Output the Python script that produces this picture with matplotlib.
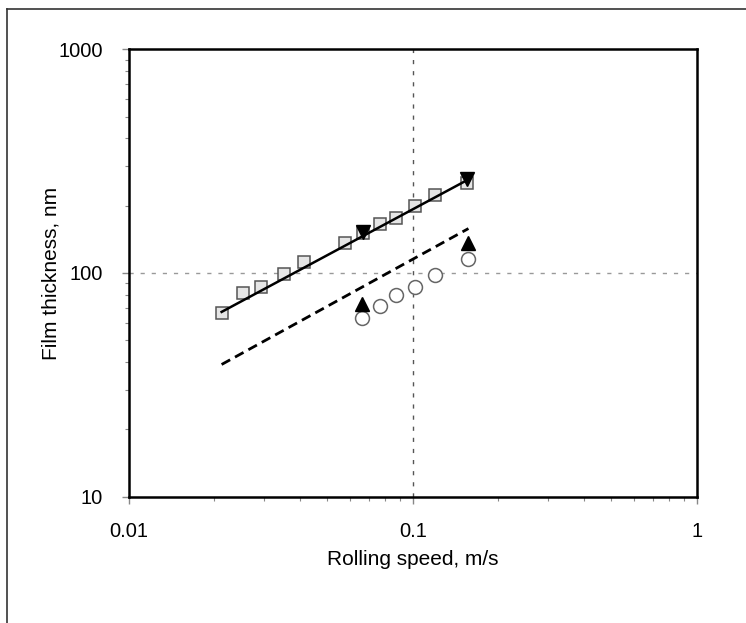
import matplotlib
matplotlib.use("Agg")
import matplotlib.pyplot as plt
from matplotlib.ticker import LogLocator, NullFormatter, FixedLocator, FixedFormatter

plt.rcParams['font.family'] = ['Liberation Sans', 'DejaVu Sans']

# measured film thickness (squares) and predicted values
sq_speed = [0.0212, 0.0253, 0.0291, 0.0352, 0.0415, 0.0579, 0.0666, 0.0766, 0.0872, 0.1014, 0.120, 0.1557]
sq_thick = [66, 81, 87, 99, 112, 136, 151, 165, 177, 200, 224, 253]

circ_speed = [0.0663, 0.0766, 0.0872, 0.1014, 0.120, 0.157]
circ_thick = [63, 71, 80, 87, 98, 116]

tri_down_speed = [0.0666, 0.1557]
tri_down_thick = [153, 264]

tri_up_speed = [0.0663, 0.157]
tri_up_thick = [73, 136]

fit_speed = [0.0212, 0.157]
fit_solid = [67, 262]
fit_dashed = [39, 158]

fig = plt.figure(figsize=(7.46, 6.23), dpi=100)
ax = fig.add_axes([0.1729, 0.2027, 0.7610, 0.7182])

ax.set_xscale("log")
ax.set_yscale("log")
ax.set_xlim(0.01, 1)
ax.set_ylim(10, 1000)

# grid only through 0.1 and 100
ax.axvline(0.1, color="#555555", ls=(0, (3, 5)), lw=1.0, zorder=1)
ax.axhline(100, color="#999999", ls=(0, (3, 5)), lw=1.0, zorder=1)

ax.plot(fit_speed, fit_solid, color="black", lw=1.8, zorder=3)
ax.plot(fit_speed, fit_dashed, color="black", lw=2.0, ls=(0, (3.5, 2)), zorder=3)

ax.plot(sq_speed, sq_thick, ls="none", marker="s", ms=8.5, mfc="#e6e6e6",
        mec="#555555", mew=1.1, zorder=2)
ax.plot(circ_speed, circ_thick, ls="none", marker="o", ms=10, mfc="white",
        mec="#666666", mew=1.1, zorder=2)
ax.plot(tri_down_speed, tri_down_thick, ls="none", marker="v", ms=10,
        color="black", zorder=4)
ax.plot(tri_up_speed, tri_up_thick, ls="none", marker="^", ms=10,
        color="black", zorder=4)

ax.xaxis.set_major_locator(FixedLocator([0.01, 0.1, 1]))
ax.xaxis.set_major_formatter(FixedFormatter(["0.01", "0.1", "1"]))
ax.xaxis.set_minor_locator(LogLocator(base=10, subs=range(2, 10)))
ax.xaxis.set_minor_formatter(NullFormatter())
ax.yaxis.set_major_locator(FixedLocator([10, 100, 1000]))
ax.yaxis.set_major_formatter(FixedFormatter(["10", "100", "1000"]))
ax.yaxis.set_minor_locator(LogLocator(base=10, subs=range(2, 10)))
ax.yaxis.set_minor_formatter(NullFormatter())

ax.tick_params(which="both", direction="out", colors="#888888", labelcolor="black",
               labelsize=14.5)
ax.tick_params(which="major", length=5, width=1)
ax.tick_params(which="minor", length=3, width=0.8)
ax.tick_params(axis="x", pad=13)
ax.tick_params(axis="y", pad=14)

for s in ax.spines.values():
    s.set_linewidth(1.8)
    s.set_color("black")

ax.set_xlabel("Rolling speed, m/s", fontsize=15, labelpad=7)
ax.set_ylabel("Film thickness, nm", fontsize=15, labelpad=-2)

# outer frame of the scanned figure (left and top edges)
fig.add_artist(plt.Line2D([0.0094, 0.0094], [0.0, 0.985], color="#333333", lw=1.2))
fig.add_artist(plt.Line2D([0.0094, 1.0], [0.985, 0.985], color="#333333", lw=1.2))

fig.savefig("out.png", dpi=100, facecolor="white")
